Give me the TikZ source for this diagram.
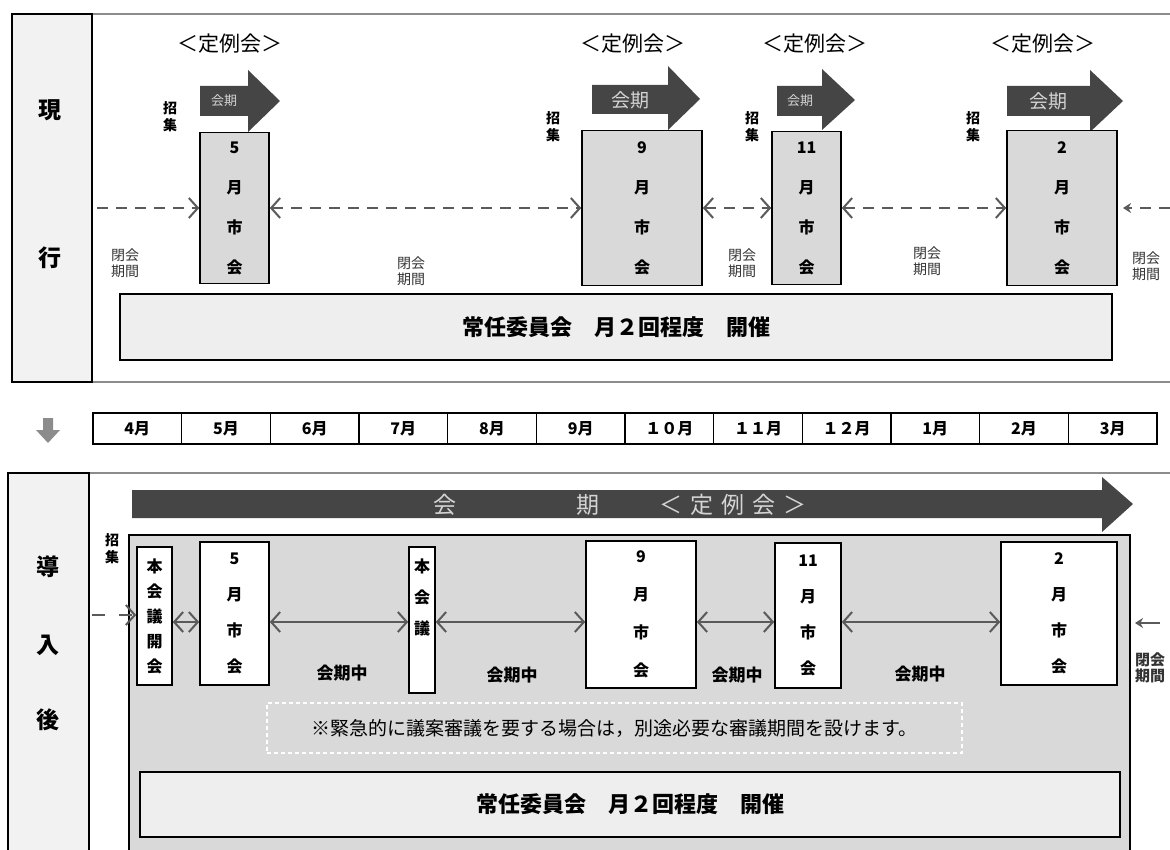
\documentclass[tikz,border=0pt]{standalone}
\usepackage{fontspec}
\newfontfamily\jp{Noto Sans CJK JP}
\usetikzlibrary{arrows.meta}
\newcommand\jfs[2]{\fontsize{#1}{#2}\selectfont}
\definecolor{arrdark}{HTML}{454545}
\definecolor{boxgray}{HTML}{D9D9D9}
\definecolor{barfill}{HTML}{EEEEEE}
\definecolor{sidefill}{HTML}{F2F2F2}
\definecolor{linegray}{HTML}{5A5A5A}
\definecolor{framegray}{HTML}{8C8C8C}
\definecolor{txtlight}{HTML}{D4D4D4}
\tikzset{
 framerule/.style={draw=framegray, line width=2.5pt},
 sidebox/.style={draw=black, line width=1.6pt, fill=sidefill, inner sep=0pt},
 sidelabel/.style={font=\jp\bfseries\jfs{23}{26}, inner sep=0pt},
 teirei/.style={font=\jp\jfs{21}{24}, inner sep=0pt},
 kaiki/.style={font=\jp\jfs{#1}{#1}, text=txtlight, inner sep=0pt},
 graybox/.style={draw=black, line width=1.6pt, fill=boxgray, inner sep=0pt, align=center, font=\jp\bfseries\jfs{16}{40}},
 whitebox/.style={draw=black, line width=1.6pt, fill=white, inner sep=0pt, align=center, font=\jp\bfseries\jfs{16}{36}},
 shoshu/.style={font=\jp\bfseries\jfs{14}{17}, align=center, inner sep=0pt},
 heikai/.style={font=\jp\jfs{14}{16}, align=center, inner sep=0pt, text=black!80},
 dasharr/.style={draw=linegray, line width=2pt, dash pattern=on 11pt off 8pt},
 solarr/.style={draw=linegray, line width=2pt},
 bar/.style={draw=black, line width=1.6pt, fill=barfill, inner sep=0pt, font=\jp\bfseries\jfs{22}{26}},
 month/.style={draw=black, line width=1.4pt, fill=white, inner sep=0pt, minimum width=88.67pt, minimum height=31pt, font=\jp\bfseries\jfs{16}{18}},
 kikan/.style={font=\jp\bfseries\jfs{17}{18}, inner sep=0pt},
 notebox/.style={draw=white, line width=1.3pt, dash pattern=on 4pt off 3pt, inner sep=0pt, font=\jp\jfs{19}{22}},
 panel/.style={draw=black, line width=1.6pt, fill=boxgray, inner sep=0pt},
 bigtext/.style={font=\jp\jfs{23}{26}, text=txtlight, inner sep=0pt},
}
\begin{document}
\begin{tikzpicture}[x=1pt,y=-1pt,>={Straight Barb[length=9pt,width=20pt]}]
\useasboundingbox (0,0) rectangle (1170,850);
\fill[white] (0,0) rectangle (1170,850);
% ================= top section =================
\draw[framerule] (92,14) -- (1170,14);
\draw[framerule] (12,382) -- (1170,382);
\node[sidebox, minimum width=80pt, minimum height=368pt] (sideA) at (52,198) {};
\node[sidelabel] (gen) at (50,110) {現};
\node[sidelabel] (gyo) at (50,258) {行};

\node[teirei] (t1) at (230,44) {＜定例会＞};
\node[teirei] (t2) at (633,44) {＜定例会＞};
\node[teirei] (t3) at (815,44) {＜定例会＞};
\node[teirei] (t4) at (1043,44) {＜定例会＞};

% session arrows
\fill[arrdark] (200,86) -- (248,86) -- (248,70) -- (280,101) -- (248,132) -- (248,116) -- (200,116) -- cycle;
\fill[arrdark] (592,85) -- (668,85) -- (668,66) -- (700,99) -- (668,130) -- (668,114) -- (592,114) -- cycle;
\fill[arrdark] (777,86) -- (822,86) -- (822,69) -- (855,100) -- (822,130) -- (822,116) -- (777,116) -- cycle;
\fill[arrdark] (1007,86) -- (1090,86) -- (1090,70) -- (1123,101) -- (1090,132) -- (1090,116) -- (1007,116) -- cycle;
\node[kaiki=13] (k1) at (224,101) {会期};
\node[kaiki=19] (k2) at (630,100) {会期};
\node[kaiki=13] (k3) at (800,101) {会期};
\node[kaiki=19] (k4) at (1048,101) {会期};

% session boxes
\node[graybox, minimum width=69pt, minimum height=151pt] (m5) at (234.5,208) {5\\月\\市\\会};
\node[graybox, minimum width=120pt, minimum height=155pt] (m9) at (642,208) {9\\月\\市\\会};
\node[graybox, minimum width=69pt, minimum height=153pt] (m11) at (806.5,208) {11\\月\\市\\会};
\node[graybox, minimum width=110pt, minimum height=155pt] (m2) at (1062,208) {2\\月\\市\\会};

\node[shoshu] (s1) at (170,117) {招\\集};
\node[shoshu] (s2) at (553,127) {招\\集};
\node[shoshu] (s3) at (752,127) {招\\集};
\node[shoshu] (s4) at (973,127) {招\\集};

\coordinate (dA) at (97,208);
\coordinate (rA1) at (1170,208);
\coordinate (rA2) at (1123,208);
\draw[dasharr,->] (dA) -- (m5.west);
\draw[dasharr,<->] (m5.east) -- (m9.west);
\draw[dasharr,<->] (m9.east) -- (m11.west);
\draw[dasharr,<->] (m11.east) -- (m2.west);
\draw[dasharr,-{Stealth[length=8pt,width=10pt]}] (rA1) -- (rA2);

\node[heikai] (h1) at (125,263) {閉会\\期間};
\node[heikai] (h2) at (411,271) {閉会\\期間};
\node[heikai] (h3) at (742,263) {閉会\\期間};
\node[heikai] (h4) at (927,261) {閉会\\期間};
\node[heikai] (h5) at (1146,266) {閉会\\期間};

\node[bar, minimum width=992pt, minimum height=66pt] (barA) at (616,327) {常任委員会　月２回程度　開催};

% ================= month row =================
\fill[framegray] (43,418) -- (53,418) -- (53,430) -- (60,430) -- (48,443) -- (36,430) -- (43,430) -- cycle;
\foreach \m [count=\i] in {4月,5月,6月,7月,8月,9月,１０月,１１月,１２月,1月,2月,3月}
  \node[month] (mon\i) at ({93+88.667*(\i-0.5)},428.5) {\m};

% ================= bottom section =================
\draw[framerule] (89,473) -- (1170,473);
\node[sidebox, minimum width=81pt, minimum height=387pt] (sideB) at (48.5,666.5) {};
\node[sidelabel] (dou) at (48,567) {導};
\node[sidelabel] (nyu) at (48,645) {入};
\node[sidelabel] (go) at (48,720) {後};

\node[panel, minimum width=1001pt, minimum height=325pt] (panel) at (629.5,697.5) {};

\fill[arrdark] (132,490) -- (1102,490) -- (1102,477) -- (1133,504) -- (1102,532) -- (1102,518) -- (132,518) -- cycle;
\node[bigtext] (bk1) at (445,505) {会};
\node[bigtext] (bk2) at (588,505) {期};
\node[bigtext] (bk3) at (733,505) {＜\hspace{8pt}定\hspace{8pt}例\hspace{8pt}会\hspace{8pt}＞};

\node[shoshu] (s5) at (112,549) {招\\集};

\node[whitebox, minimum width=35pt, minimum height=138pt, font=\jp\bfseries\jfs{16}{25}] (hk) at (154.5,616) {本\\会\\議\\開\\会};
\node[whitebox, minimum width=69pt, minimum height=143pt] (b5) at (234.5,613.5) {5\\月\\市\\会};
\node[whitebox, minimum width=26pt, minimum height=146pt] (hg) at (422,620) {};
\node[align=center, inner sep=0pt, font=\jp\bfseries\jfs{16}{31}] (hgt) at (422,597) {本\\会\\議};
\node[whitebox, minimum width=110pt, minimum height=147pt, font=\jp\bfseries\jfs{16}{38}] (b9) at (641,614.5) {9\\月\\市\\会};
\node[whitebox, minimum width=66pt, minimum height=145pt] (b11) at (808,615.5) {11\\月\\市\\会};
\node[whitebox, minimum width=116pt, minimum height=143pt] (b2) at (1059,613.5) {2\\月\\市\\会};

\coordinate (ay) at (0,622);
\coordinate (ly) at (0,615);
\coordinate (lb) at (92,615);
\draw[solarr,<->] (hk.east |- ay) -- (b5.west |- ay);
\draw[solarr,<->] (b5.east |- ay) -- (hg.west |- ay);
\draw[solarr,<->] (hg.east |- ay) -- (b9.west |- ay);
\draw[solarr,<->] (b9.east |- ay) -- (b11.west |- ay);
\draw[solarr,<->] (b11.east |- ay) -- (b2.west |- ay);
\draw[solarr, dash pattern=on 13pt off 14pt,->] (lb) -- (hk.west |- ly);

\coordinate (rb1) at (1160,623);
\coordinate (rb2) at (1135,623);
\draw[solarr,-{Stealth[length=8pt,width=10pt]}] (rb1) -- (rb2);
\node[heikai, font=\jp\bfseries\jfs{15}{16}] (h6) at (1150,668) {閉会\\期間};

\node[kikan] (kc1) at (342,673) {会期中};
\node[kikan] (kc2) at (512,675) {会期中};
\node[kikan] (kc3) at (737,675) {会期中};
\node[kikan] (kc4) at (920,674) {会期中};

\node[notebox, minimum width=695pt, minimum height=50pt] (note) at (614.5,728) {※緊急的に議案審議を要する場合は，別途必要な審議期間を設けます。};

\node[bar, minimum width=980pt, minimum height=65pt] (barB) at (630,804.5) {常任委員会　月２回程度　開催};
\end{tikzpicture}
\end{document}
